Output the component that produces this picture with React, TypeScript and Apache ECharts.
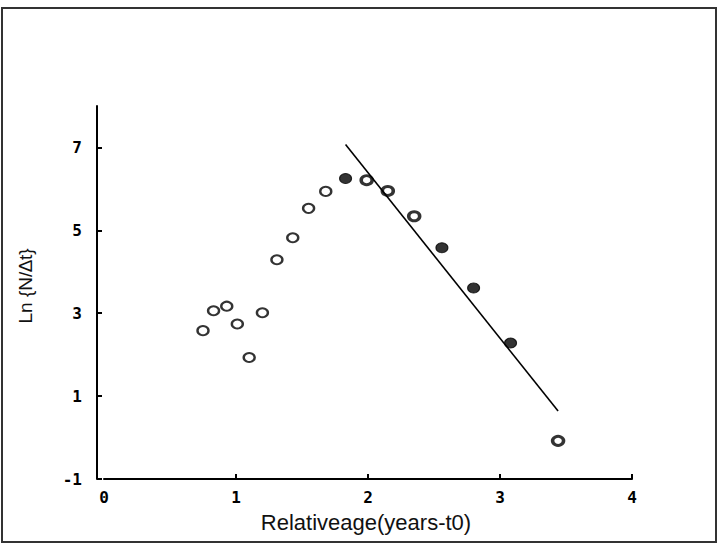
import React, { useEffect, useRef } from "react";
import * as echarts from "echarts";

// Relative age (years - t0) vs Ln(N/Δt)
const openPoints: [number, number][] = [
  [0.75, 2.58],
  [0.83, 3.06],
  [0.93, 3.17],
  [1.01, 2.74],
  [1.1, 1.93],
  [1.2, 3.01],
  [1.31, 4.29],
  [1.43, 4.82],
  [1.55, 5.53],
  [1.68, 5.94],
];
const heavyPoints: [number, number][] = [
  [1.99, 6.21],
  [2.15, 5.95],
  [2.35, 5.34],
  [3.44, -0.08],
];
const filledPoints: [number, number][] = [
  [1.83, 6.25],
  [2.56, 4.58],
  [2.8, 3.61],
  [3.08, 2.28],
];
const fitLine: [number, number][] = [
  [1.83, 7.07],
  [3.44, 0.64],
];
const xTickLabels = [0, 1, 2, 3, 4];
const xTickMarks = [1, 2, 3, 4];
const yTickLabels = [-1, 1, 3, 5, 7];

const tickFont = {
  fontFamily: "DejaVu Sans Mono",
  fontWeight: "bold" as const,
  fontSize: 16,
  color: "#000",
};

export default function App() {
  const ref = useRef<HTMLDivElement>(null);

  useEffect(() => {
    if (!ref.current) return;
    const chart = echarts.init(ref.current, null, { renderer: "svg" });
    chart.setOption({
      animation: false,
      backgroundColor: "#fff",
      grid: { left: 104, right: 90, top: 106, bottom: 68 },
      xAxis: {
        type: "value",
        min: 0,
        max: 4,
        interval: 1,
        axisLine: { show: true, onZero: false, lineStyle: { color: "#000", width: 2 } },
        axisTick: {
          show: true,
          inside: true,
          length: 5,
          customValues: xTickMarks,
          lineStyle: { color: "#000", width: 2 },
        },
        axisLabel: { ...tickFont, margin: 10, customValues: xTickLabels },
        splitLine: { show: false },
      },
      yAxis: {
        type: "value",
        min: -1,
        max: 8,
        interval: 2,
        offset: 7,
        axisLine: { show: true, onZero: false, lineStyle: { color: "#000", width: 2 } },
        axisTick: {
          show: true,
          inside: true,
          length: 5,
          customValues: yTickLabels,
          lineStyle: { color: "#000", width: 2 },
        },
        axisLabel: { ...tickFont, margin: 15, customValues: yTickLabels },
        splitLine: { show: false },
      },
      graphic: [
        {
          type: "rect",
          shape: { x: 2, y: 8, width: 714, height: 534 },
          style: { fill: "none", stroke: "#333", lineWidth: 2 },
          silent: true,
        },
        {
          type: "text",
          x: 366,
          y: 522,
          style: {
            text: "Relativeage(years-t0)",
            font: "22px 'Liberation Sans', Arial, sans-serif",
            fill: "#111",
            align: "center",
            verticalAlign: "middle",
          },
        },
        {
          type: "text",
          x: 25,
          y: 286,
          rotation: Math.PI / 2,
          style: {
            text: "Ln {N/∆t}",
            font: "19px 'Liberation Sans', Arial, sans-serif",
            fill: "#111",
            align: "center",
            verticalAlign: "middle",
          },
        },
      ],
      series: [
        {
          type: "line",
          data: fitLine,
          symbol: "none",
          lineStyle: { color: "#000", width: 1.6 },
          silent: true,
        },
        {
          type: "scatter",
          data: openPoints,
          symbol: "circle",
          symbolSize: [11, 9],
          itemStyle: { color: "#fff", borderColor: "#000", borderWidth: 2.2 },
        },
        {
          type: "scatter",
          data: heavyPoints,
          symbol: "circle",
          symbolSize: [11, 9],
          itemStyle: { color: "#fff", borderColor: "#000", borderWidth: 3.2 },
        },
        {
          type: "scatter",
          data: filledPoints,
          symbol: "circle",
          symbolSize: [12, 10],
          itemStyle: { color: "#000", borderColor: "#000", borderWidth: 1 },
        },
      ],
    });
    return () => chart.dispose();
  }, []);

  return <div ref={ref} style={{ width: 722, height: 547, position: "absolute", left: 0, top: 0 }} />;
}
